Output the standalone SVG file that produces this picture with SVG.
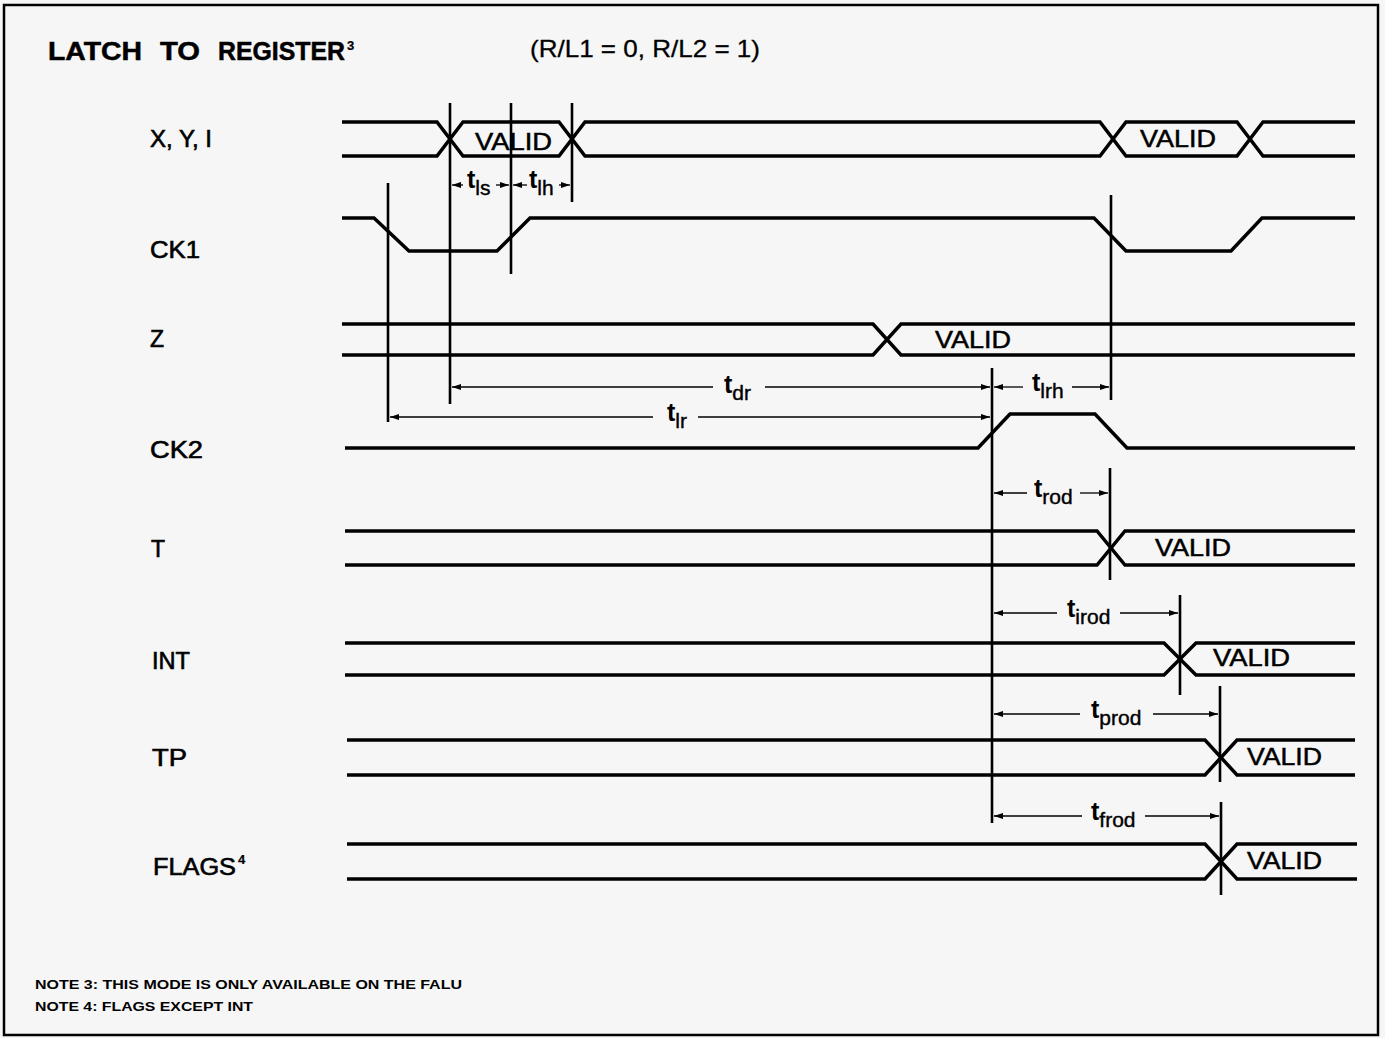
<svg xmlns="http://www.w3.org/2000/svg" width="1385" height="1038" viewBox="0 0 1385 1038">
<defs>
<style>
.sig{fill:none;stroke:#000;stroke-width:3.5;stroke-linejoin:miter}
.mk{stroke:#000;stroke-width:2.6}
.ar{stroke:#000;stroke-width:1.3;marker-end:url(#ah)}
.lbl{font-family:"Liberation Sans",Arial,sans-serif;font-size:23px;fill:#000;stroke:#000;stroke-width:0.6}
.val{font-family:"Liberation Sans",Arial,sans-serif;font-size:24px;fill:#000;stroke:#000;stroke-width:0.5}
.tt{font-family:"Liberation Sans",Arial,sans-serif;font-size:25px;font-weight:bold;fill:#000}
.sub{font-weight:normal;font-size:21px;stroke:#000;stroke-width:0.4}
.note{font-family:"Liberation Sans",Arial,sans-serif;font-size:13px;font-weight:bold;fill:#000}
.title{font-family:"Liberation Sans",Arial,sans-serif;font-size:25px;font-weight:bold;fill:#000;stroke:#000;stroke-width:0.5}
</style>
<marker id="ah" viewBox="0 0 9 6" refX="9" refY="3" markerWidth="9" markerHeight="6" markerUnits="userSpaceOnUse" orient="auto">
<path d="M0,0 L9,3 L0,6 z" fill="#000"/>
</marker>
</defs>
<rect x="0" y="0" width="1385" height="1038" fill="#f6f6f6"/>
<rect x="4" y="5" width="1374" height="1030" fill="none" stroke="#000" stroke-width="2.5"/>

<g id="title">
<text class="title" x="48" y="60" textLength="94" lengthAdjust="spacingAndGlyphs">LATCH</text>
<text class="title" x="160" y="60" textLength="40" lengthAdjust="spacingAndGlyphs">TO</text>
<text class="title" x="218" y="60" textLength="127" lengthAdjust="spacingAndGlyphs">REGISTER</text>
<text class="title" x="347" y="50" style="font-size:13px;stroke-width:0.2">3</text>
<text class="lbl" x="530" y="57" style="font-size:24px;stroke-width:0.3" textLength="230" lengthAdjust="spacingAndGlyphs">(R/L1 = 0, R/L2 = 1)</text>
</g>

<g id="sig-xyi">
<text class="lbl" x="150" y="147" textLength="62" lengthAdjust="spacingAndGlyphs">X, Y, I</text>
<path class="sig" d="M342,122 H437 L463,156 H559 L585,122 H1100 L1126,156 H1237 L1263,122 H1355"/>
<path class="sig" d="M342,156 H437 L463,122 H559 L585,156 H1100 L1126,122 H1237 L1263,156 H1355"/>
<text class="val" x="475" y="150" textLength="77" lengthAdjust="spacingAndGlyphs">VALID</text>
<text class="val" x="1140" y="147" textLength="76" lengthAdjust="spacingAndGlyphs">VALID</text>
</g>

<g id="sig-ck1">
<text class="lbl" x="150" y="258" textLength="50" lengthAdjust="spacingAndGlyphs">CK1</text>
<path class="sig" d="M342,218 H374 L409,251 H497 L530,218 H1094 L1126,251 H1231 L1262,218 H1355"/>
</g>

<g id="sig-z">
<text class="lbl" x="150" y="347">Z</text>
<path class="sig" d="M342,324 H873 L901,355 H1355"/>
<path class="sig" d="M342,355 H873 L901,324 H1355"/>
<text class="val" x="935" y="348" textLength="76" lengthAdjust="spacingAndGlyphs">VALID</text>
</g>

<g id="sig-ck2">
<text class="lbl" x="150" y="458" textLength="53" lengthAdjust="spacingAndGlyphs">CK2</text>
<path class="sig" d="M345,448 H978 L1010,414 H1095 L1127,448 H1355"/>
</g>

<g id="sig-t">
<text class="lbl" x="151" y="557">T</text>
<path class="sig" d="M345,531 H1097 L1125,565 H1355"/>
<path class="sig" d="M345,565 H1097 L1125,531 H1355"/>
<text class="val" x="1155" y="556" textLength="76" lengthAdjust="spacingAndGlyphs">VALID</text>
</g>

<g id="sig-int">
<text class="lbl" x="152" y="669" textLength="38" lengthAdjust="spacingAndGlyphs">INT</text>
<path class="sig" d="M345,643 H1164 L1196,675 H1355"/>
<path class="sig" d="M345,675 H1164 L1196,643 H1355"/>
<text class="val" x="1213" y="666" textLength="77" lengthAdjust="spacingAndGlyphs">VALID</text>
</g>

<g id="sig-tp">
<text class="lbl" x="152" y="766" textLength="35" lengthAdjust="spacingAndGlyphs">TP</text>
<path class="sig" d="M347,740 H1205 L1237,775 H1355"/>
<path class="sig" d="M347,775 H1205 L1237,740 H1355"/>
<text class="val" x="1247" y="765" textLength="75" lengthAdjust="spacingAndGlyphs">VALID</text>
</g>

<g id="sig-flags">
<text class="lbl" x="153" y="875" textLength="83" lengthAdjust="spacingAndGlyphs">FLAGS</text>
<text class="lbl" x="238" y="864" style="font-size:13px;font-weight:bold;stroke-width:0.2">4</text>
<path class="sig" d="M347,844 H1205 L1237,879 H1357"/>
<path class="sig" d="M347,879 H1205 L1237,844 H1357"/>
<text class="val" x="1247" y="869" textLength="75" lengthAdjust="spacingAndGlyphs">VALID</text>
</g>

<g id="connectors">
<line class="mk" x1="388" y1="183" x2="388" y2="422"/>
<line class="mk" x1="450" y1="103" x2="450" y2="404"/>
<line class="mk" x1="511" y1="103" x2="511" y2="274"/>
<line class="mk" x1="572" y1="103" x2="572" y2="202"/>
<line class="mk" x1="1111" y1="195" x2="1111" y2="400"/>
<line class="mk" x1="992" y1="368" x2="992" y2="823"/>
<line class="mk" x1="1110" y1="468" x2="1110" y2="580"/>
<line class="mk" x1="1180" y1="595" x2="1180" y2="695"/>
<line class="mk" x1="1220" y1="686" x2="1220" y2="782"/>
<line class="mk" x1="1221" y1="802" x2="1221" y2="895"/>

<line class="ar" x1="463" y1="185" x2="452" y2="185"/>
<line class="ar" x1="496" y1="185" x2="509" y2="185"/>
<line class="ar" x1="527" y1="185" x2="513" y2="185"/>
<line class="ar" x1="559" y1="185" x2="570" y2="185"/>

<line class="ar" x1="713" y1="387" x2="452" y2="387"/>
<line class="ar" x1="765" y1="387" x2="990" y2="387"/>
<line class="ar" x1="653" y1="417" x2="390" y2="417"/>
<line class="ar" x1="698" y1="417" x2="990" y2="417"/>

<line class="ar" x1="1023" y1="387" x2="994" y2="387"/>
<line class="ar" x1="1072" y1="387" x2="1109" y2="387"/>
<line class="ar" x1="1027" y1="493" x2="994" y2="493"/>
<line class="ar" x1="1080" y1="493" x2="1108" y2="493"/>
<line class="ar" x1="1057" y1="613" x2="994" y2="613"/>
<line class="ar" x1="1120" y1="613" x2="1178" y2="613"/>
<line class="ar" x1="1080" y1="714" x2="994" y2="714"/>
<line class="ar" x1="1153" y1="714" x2="1218" y2="714"/>
<line class="ar" x1="1082" y1="816" x2="994" y2="816"/>
<line class="ar" x1="1145" y1="816" x2="1219" y2="816"/>
</g>

<g id="timing-labels">
<text class="tt" x="467" y="188">t<tspan class="sub" dy="7">ls</tspan></text>
<text class="tt" x="529" y="188">t<tspan class="sub" dy="7">lh</tspan></text>
<text class="tt" x="724" y="393">t<tspan class="sub" dy="7">dr</tspan></text>
<text class="tt" x="667" y="421">t<tspan class="sub" dy="7">lr</tspan></text>
<text class="tt" x="1032" y="391">t<tspan class="sub" dy="7">lrh</tspan></text>
<text class="tt" x="1034" y="497">t<tspan class="sub" dy="7">rod</tspan></text>
<text class="tt" x="1067" y="617">t<tspan class="sub" dy="7">irod</tspan></text>
<text class="tt" x="1091" y="718">t<tspan class="sub" dy="7">prod</tspan></text>
<text class="tt" x="1091" y="820">t<tspan class="sub" dy="7">frod</tspan></text>
</g>

<g id="notes">
<text class="note" x="35" y="989" textLength="427" lengthAdjust="spacingAndGlyphs">NOTE 3:  THIS MODE IS ONLY AVAILABLE ON THE FALU</text>
<text class="note" x="35" y="1011" textLength="218" lengthAdjust="spacingAndGlyphs">NOTE 4:  FLAGS EXCEPT INT</text>
</g>
</svg>
